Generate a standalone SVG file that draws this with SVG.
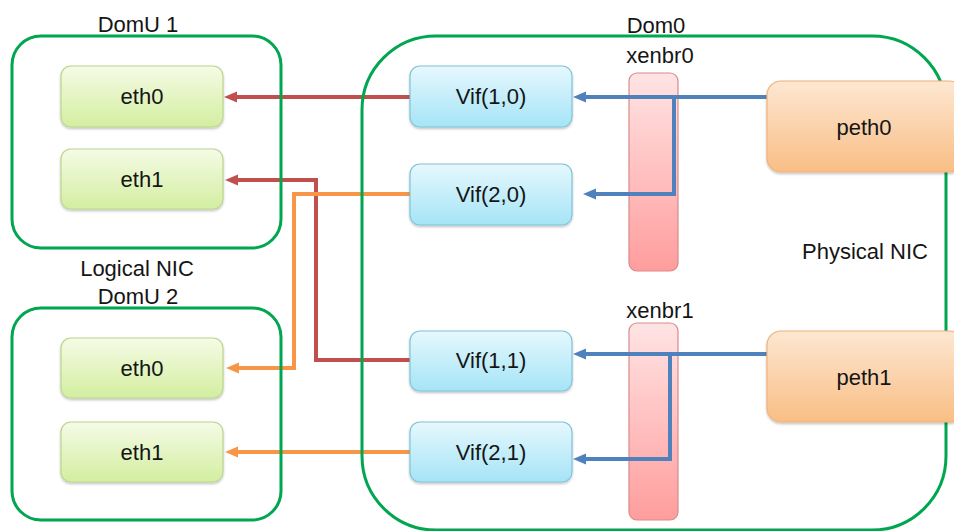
<svg xmlns="http://www.w3.org/2000/svg" width="954" height="531" viewBox="0 0 954 531">
<style>
text{font-family:"Liberation Sans",Arial,sans-serif;font-size:22px;fill:#151515;text-anchor:middle}
.cont{fill:none;stroke:#00a650;stroke-width:3}
.eth{fill:url(#gEth);stroke:#bcd58e;stroke-width:1.2;filter:url(#sh)}
.vif{fill:url(#gVif);stroke:#7fc4d8;stroke-width:1.2;filter:url(#sh)}
.peth{fill:url(#gPeth);stroke:#f0b27c;stroke-width:1.2;filter:url(#sh)}
.bar{fill:url(#gBar);stroke:#d98a8a;stroke-width:1.2}
.red{fill:none;stroke:#c0504d;stroke-width:4}
.org{fill:none;stroke:#f79646;stroke-width:4}
.blu{fill:none;stroke:#4f81bd;stroke-width:4}
</style>
<defs>
<linearGradient id="gEth" x1="0" y1="0" x2="0" y2="1"><stop offset="0" stop-color="#f5fbe6"/><stop offset="1" stop-color="#d3eea0"/></linearGradient>
<linearGradient id="gVif" x1="0" y1="0" x2="0" y2="1"><stop offset="0" stop-color="#e6f8fd"/><stop offset="1" stop-color="#a5e4f7"/></linearGradient>
<linearGradient id="gPeth" x1="0" y1="0" x2="0" y2="1"><stop offset="0" stop-color="#fde7d2"/><stop offset="1" stop-color="#f9be85"/></linearGradient>
<linearGradient id="gBar" x1="0" y1="0" x2="0" y2="1"><stop offset="0" stop-color="#ffe4e4"/><stop offset="1" stop-color="#ff9d9d"/></linearGradient>
<filter id="sh" x="-10%" y="-10%" width="120%" height="130%"><feDropShadow dx="0" dy="1.5" stdDeviation="1.2" flood-color="#000" flood-opacity="0.25"/></filter>
<marker id="aR" markerUnits="userSpaceOnUse" markerWidth="14" markerHeight="12" refX="0" refY="6" orient="auto"><path d="M0,0.5 L13,6 L0,11.5 z" fill="#c0504d"/></marker>
<marker id="aO" markerUnits="userSpaceOnUse" markerWidth="14" markerHeight="12" refX="0" refY="6" orient="auto"><path d="M0,0.5 L13,6 L0,11.5 z" fill="#f79646"/></marker>
<marker id="aB" markerUnits="userSpaceOnUse" markerWidth="14" markerHeight="12" refX="0" refY="6" orient="auto"><path d="M0,0.5 L13,6 L0,11.5 z" fill="#4f81bd"/></marker>
</defs>
<g id="xenbr0"><rect class="bar" x="629" y="73" width="49" height="198" rx="8"/></g>
<g id="xenbr1"><rect class="bar" x="629" y="323" width="49" height="197" rx="8"/></g>
<g id="connectors">
<path class="red" d="M410,97 H237" marker-end="url(#aR)"/>
<path class="red" d="M410,360 H316 V180 H238" marker-end="url(#aR)"/>
<path class="org" d="M410,194 H294 V368 H239" marker-end="url(#aO)"/>
<path class="org" d="M410,452 H238" marker-end="url(#aO)"/>
<path class="blu" d="M767,97 H586" marker-end="url(#aB)"/>
<path class="blu" d="M674,97 V194 H596" marker-end="url(#aB)"/>
<path class="blu" d="M767,354 H586" marker-end="url(#aB)"/>
<path class="blu" d="M670,354 V459 H586" marker-end="url(#aB)"/>
</g>
<g id="domu1"><rect class="cont" x="12" y="36" width="269" height="212" rx="29"/><text x="138" y="32">DomU 1</text></g>
<g id="domu2"><rect class="cont" x="12" y="308" width="269" height="212" rx="29"/><text x="137" y="276">Logical NIC</text><text x="138" y="304">DomU 2</text></g>
<g id="dom0"><rect class="cont" x="362" y="36" width="584" height="494" rx="74"/><text x="656" y="33">Dom0</text><text x="660" y="63">xenbr0</text><text x="660" y="318">xenbr1</text><text x="865" y="259">Physical NIC</text></g>
<g id="u1eth0"><rect class="eth" x="61" y="66" width="162" height="61" rx="10"/><text x="142" y="104">eth0</text></g>
<g id="u1eth1"><rect class="eth" x="61" y="149" width="162" height="60" rx="10"/><text x="142" y="187">eth1</text></g>
<g id="u2eth0"><rect class="eth" x="61" y="338" width="162" height="60" rx="10"/><text x="142" y="376">eth0</text></g>
<g id="u2eth1"><rect class="eth" x="61" y="422" width="162" height="60" rx="10"/><text x="142" y="460">eth1</text></g>
<g id="vif10"><rect class="vif" x="410" y="66" width="162" height="61" rx="10"/><text x="491" y="104">Vif(1,0)</text></g>
<g id="vif20"><rect class="vif" x="410" y="164" width="162" height="61" rx="10"/><text x="491" y="202">Vif(2,0)</text></g>
<g id="vif11"><rect class="vif" x="410" y="331" width="162" height="60" rx="10"/><text x="491" y="368">Vif(1,1)</text></g>
<g id="vif21"><rect class="vif" x="410" y="422" width="162" height="60" rx="10"/><text x="491" y="460">Vif(2,1)</text></g>
<g id="peth0"><rect class="peth" x="767" y="81" width="196" height="91" rx="14"/><text x="864" y="135">peth0</text></g>
<g id="peth1"><rect class="peth" x="767" y="331" width="196" height="91" rx="14"/><text x="864" y="385">peth1</text></g>
</svg>
